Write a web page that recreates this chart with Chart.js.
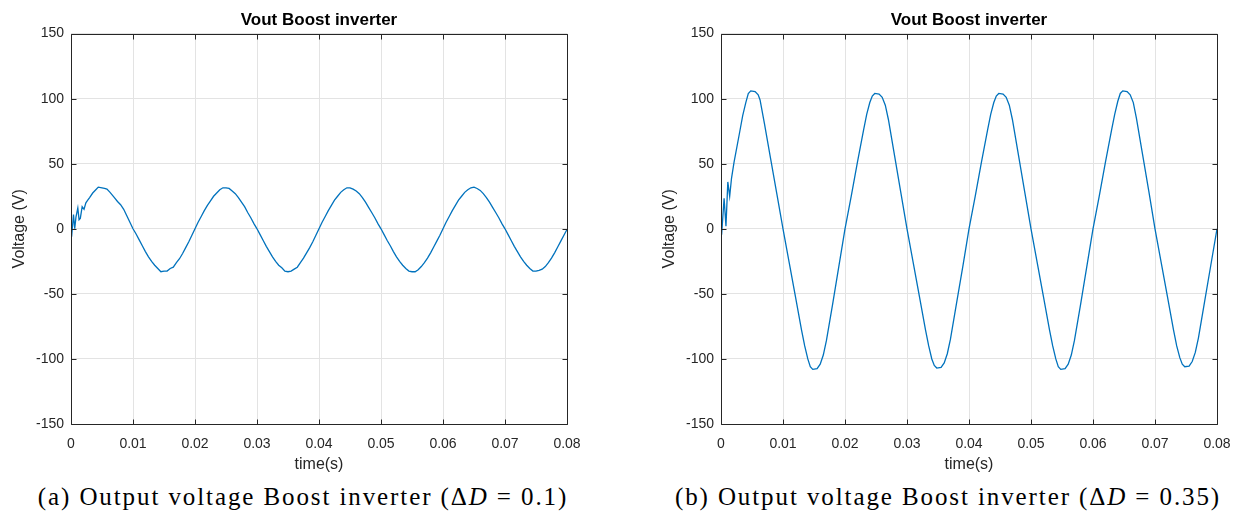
<!DOCTYPE html>
<html>
<head>
<meta charset="utf-8">
<script src="https://cdn.jsdelivr.net/npm/chart.js@4.4.0/dist/chart.umd.min.js"></script>
<style>
  body { margin:0; background:#fff; width:1244px; height:517px; overflow:hidden; position:relative; }
  .box { position:absolute; top:0; }
  .cap { position:absolute; top:482px; width:640px; text-align:center;
         font-family:'Liberation Serif', serif; font-size:25px; line-height:30px;
         letter-spacing:1.9px; color:#000; white-space:nowrap; }
</style>
</head>
<body>
<div class="box" style="left:0"><canvas id="chartA" width="590" height="480"></canvas></div>
<div class="box" style="left:650px"><canvas id="chartB" width="590" height="480"></canvas></div>
<div class="cap" style="left:-17px">(a) Output voltage Boost inverter (Δ<i>D</i> = 0.1)</div>
<div class="cap" style="left:628px">(b) Output voltage Boost inverter (Δ<i>D</i> = 0.35)</div>
<script>
// 数据: 时间 (ms) 与输出电压 (V)
var xTickLabels = ['0','0.01','0.02','0.03','0.04','0.05','0.06','0.07','0.08'];
var yTickLabels = ['-150','-100','-50','0','50','100','150'];

// (a) ΔD = 0.1
var timeMsA = [0,0.1,0.4,0.6,0.8,1.1,1.3,1.5,1.8,2.1,2.4,2.7,3,3.5,4,4.4,5,5.4,5.8,6.3,7,7.5,8,8.5,9,9.5,
  10,10.5,11,11.5,12,12.5,13,13.5,14,14.5,15,15.5,16,16.5,17,17.5,18,18.5,19,19.5,
  20,20.5,21,21.5,22,22.5,23,23.5,24,24.5,25,25.5,26,26.5,27,27.5,28,28.5,29,29.5,
  30,30.5,31,31.5,32,32.5,33,33.5,34,34.5,35,35.5,36,36.5,37,37.5,38,38.5,39,39.5,
  40,40.5,41,41.5,42,42.5,43,43.5,44,44.5,45,45.5,46,46.5,47,47.5,48,48.5,49,49.5,
  50,50.5,51,51.5,52,52.5,53,53.5,54,54.5,55,55.5,56,56.5,57,57.5,58,58.5,59,59.5,
  60,60.5,61,61.5,62,62.5,63,63.5,64,64.5,65,65.5,66,66.5,67,67.5,68,68.5,69,69.5,
  70,70.5,71,71.5,72,72.5,73,73.5,74,74.5,75,75.5,76,76.5,77,77.5,78,78.5,79,79.5,80];
var voltA = [0,-6,11,0,9,16,7,8,17,15,20,22,24,27.5,30,32,31.5,31,30.5,28,24,21,18.5,15,10,5,
  0,-4,-8.5,-13,-17.5,-21.5,-25,-28,-30.5,-33,-32.5,-32.5,-30.5,-29.5,-26,-23,-19,-14.5,-10,-5,
  0,5,9.5,14,18,21.5,25,27.5,30,31.5,31.5,31,29,27,24,20.5,17,12.5,8.5,4,
  0,-4.5,-9,-13.5,-17.5,-21.5,-25,-28,-30,-32.5,-33,-32.5,-31,-29.5,-26,-22.5,-18.5,-14.5,-10,-5,
  0,5,9.5,14,18,22,25,28,30,31.5,31.5,30.5,29,27,24,20.5,16.5,12.5,8.5,4,
  0,-4.5,-9,-13,-17.5,-21.5,-25,-28,-30.5,-32.5,-33,-33,-31.5,-29,-26,-22.5,-18.5,-14,-9.5,-5,
  0,5,9.5,14,18,22,25,28,30,31.5,32,31,29.5,27,24,20.5,16.5,12.5,8.5,4,
  0,-4.5,-9,-13.5,-17.5,-21.5,-25,-28,-30.5,-32.5,-32.5,-32,-31,-29,-26,-22.5,-18.5,-14,-9.5,-5,-0.5];

// (b) ΔD = 0.35
var timeMsB = [0,0.1,0.5,0.8,1.1,1.4,1.7,2.1,3,3.5,4,4.4,4.8,5.5,6,6.3,7,8,9,10,
  11,12,13,13.5,14,14.4,14.8,15.5,16,16.5,17,18,19,20,
  21,22,23,23.5,24,24.4,24.8,25.5,26,26.5,27,28,29,30,
  31,32,33,33.5,34,34.4,34.8,35.5,36,36.5,37,38,39,40,
  41,42,43,43.5,44,44.4,44.8,45.5,46,46.5,47,48,49,50,
  51,52,53,53.5,54,54.4,54.8,55.5,56,56.5,57,58,59,60,
  61,62,63,63.5,64,64.4,64.8,65.5,66,66.5,67,68,69,70,
  71,72,73,73.5,74,74.4,74.8,75.5,76,76.5,77,78,79,80];
var voltB = [0,-4.6,23.5,2,36,25,39,51,74,87,97,104,106,105.5,103,99,81,54,27,0,
  -26,-52,-78,-90,-100,-106,-108,-107.5,-104,-97,-86,-58,-29,0,
  25,51,76,88,97,102,104,103.5,101,95,84,56,28,0,
  -26,-52,-78,-90,-100,-105,-107,-106.5,-103,-96,-85,-57,-29,0,
  25,51,76,88,97,102,104,103.5,101,95,84,56,28,0,
  -26,-52,-78,-90,-100,-106,-108,-107.5,-104,-97,-86,-58,-29,0,
  25,51,76,88,98,104,106,105.5,103,97,85,57,29,0,
  -26,-52,-78,-90,-99,-104,-106,-105.5,-102,-95,-84,-56,-28,0];

var axisColor = '#262626';
var gridColor = '#e3e3e3';
var lineColor = '#0072BD';

// 画坐标框和向内的刻度线 (MATLAB 风格)
var boxPlugin = {
  id: 'axesBox',
  afterDatasetsDraw: function(chart) {
    var ctx = chart.ctx, a = chart.chartArea;
    var xs = chart.scales.x, ys = chart.scales.y;
    var l = Math.round(a.left) + 0.5, r = Math.round(a.right) + 0.5;
    var t = Math.round(a.top) + 0.5, b = Math.round(a.bottom) + 0.5;
    var len = 5;
    ctx.save();
    ctx.strokeStyle = axisColor;
    ctx.lineWidth = 1;
    ctx.beginPath();
    ctx.rect(l, t, r - l, b - t);
    xs.ticks.forEach(function(tk) {
      var px = Math.round(xs.getPixelForValue(tk.value)) + 0.5;
      ctx.moveTo(px, b); ctx.lineTo(px, b - len);
      ctx.moveTo(px, t); ctx.lineTo(px, t + len);
    });
    ys.ticks.forEach(function(tk) {
      var py = Math.round(ys.getPixelForValue(tk.value)) + 0.5;
      ctx.moveTo(l, py); ctx.lineTo(l + len, py);
      ctx.moveTo(r, py); ctx.lineTo(r - len, py);
    });
    ctx.stroke();
    ctx.restore();
  }
};

function makeChart(id, timeMs, volt) {
  var pts = [];
  for (var i = 0; i < timeMs.length; i++) {
    pts.push({ x: timeMs[i] / 1000, y: volt[i] });
  }
  return new Chart(document.getElementById(id).getContext('2d'), {
    type: 'line',
    data: {
      datasets: [{
        label: 'Vout',
        data: pts,
        borderColor: lineColor,
        borderWidth: 1.3,
        pointRadius: 0,
        tension: 0,
        fill: false
      }]
    },
    options: {
      responsive: false,
      animation: false,
      layout: { padding: { left: 0, right: 23, top: 0, bottom: 0 } },
      plugins: {
        legend: { display: false },
        tooltip: { enabled: false },
        title: {
          display: true,
          text: 'Vout Boost inverter',
          fullSize: false,
          color: '#000',
          font: { family: "'Liberation Sans', Arial, sans-serif", size: 17, weight: 'bold' },
          padding: { top: 10, bottom: 3.2 }
        }
      },
      scales: {
        x: {
          type: 'linear',
          min: 0, max: 0.08,
          border: { display: false },
          grid: { color: gridColor, drawTicks: false },
          ticks: {
            stepSize: 0.01,
            padding: 12,
            maxRotation: 0,
            color: axisColor,
            font: { family: "'Liberation Sans', Arial, sans-serif", size: 14 },
            callback: function(v) { return xTickLabels[Math.round(v / 0.01)]; }
          },
          title: {
            display: true,
            text: 'time(s)',
            color: axisColor,
            font: { family: "'Liberation Sans', Arial, sans-serif", size: 16 },
            padding: { top: 0, bottom: 6 }
          },
          afterFit: function(scale) {
            scale.height = 56;
            scale.paddingLeft = 0;
            scale.paddingRight = 0;
          }
        },
        y: {
          min: -150, max: 150,
          border: { display: false },
          grid: { color: gridColor, drawTicks: false },
          ticks: {
            stepSize: 50,
            padding: 7,
            color: axisColor,
            font: { family: "'Liberation Sans', Arial, sans-serif", size: 14 },
            callback: function(v) { return yTickLabels[Math.round((v + 150) / 50)]; }
          },
          title: {
            display: true,
            text: 'Voltage (V)',
            color: axisColor,
            font: { family: "'Liberation Sans', Arial, sans-serif", size: 16 },
            padding: { top: 10, bottom: 0 }
          },
          afterFit: function(scale) {
            scale.width = 71;
            scale.paddingTop = 0;
            scale.paddingBottom = 0;
          }
        }
      }
    },
    plugins: [boxPlugin]
  });
}

makeChart('chartA', timeMsA, voltA);
makeChart('chartB', timeMsB, voltB);
</script>
</body>
</html>
